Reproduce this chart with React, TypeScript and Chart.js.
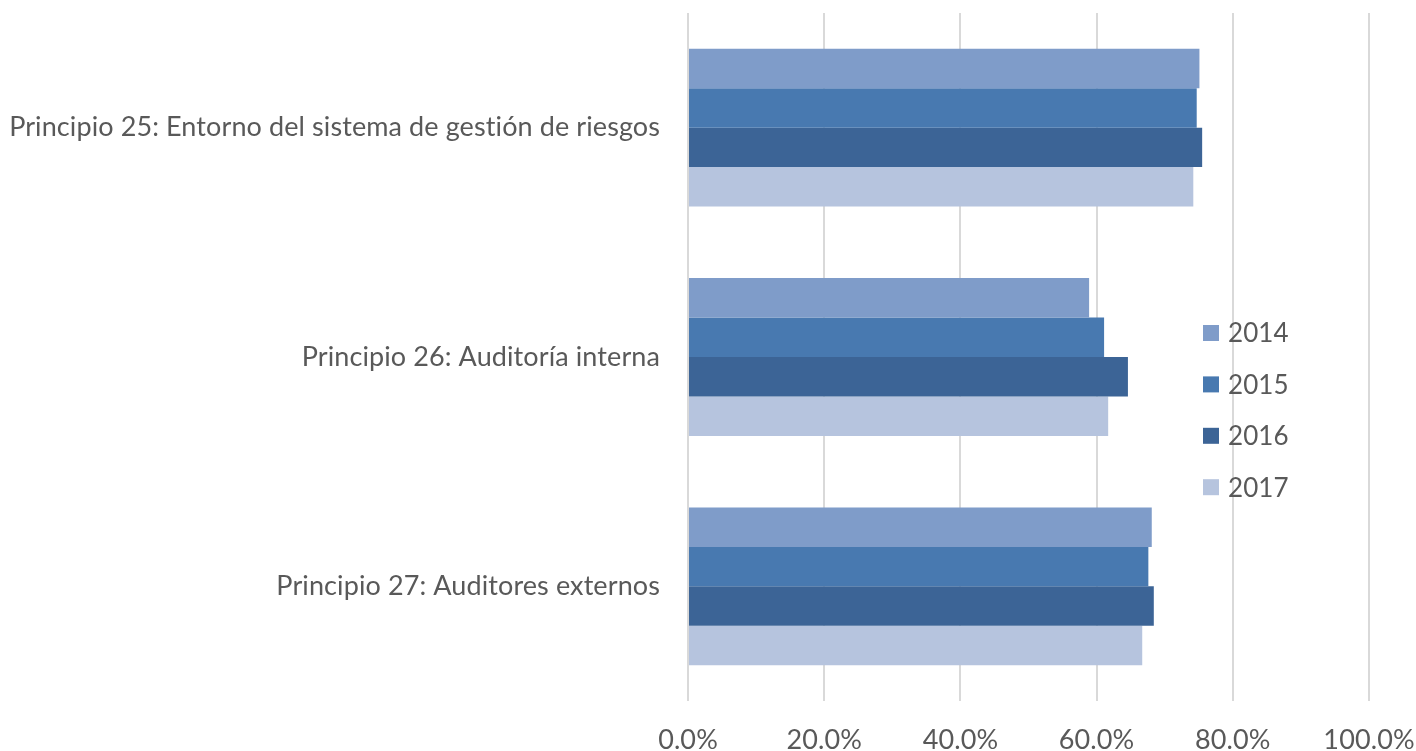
import React, { useEffect, useRef } from "react";
import { Chart, registerables } from "chart.js";

Chart.register(...registerables);

const categories = [
  "Principio 25: Entorno del sistema de gestión de riesgos",
  "Principio 26: Auditoría interna",
  "Principio 27: Auditores externos",
];
const years = ["2014", "2015", "2016", "2017"];
const values2014 = [75.1, 58.9, 68.1];
const values2015 = [74.7, 61.1, 67.6];
const values2016 = [75.5, 64.6, 68.4];
const values2017 = [74.2, 61.7, 66.7];
const xTicks = [0, 20, 40, 60, 80, 100];
const colors = ["#7F9CC9", "#4879B0", "#3C6496", "#B6C4DE"];

const FONT = "Lato, 'Noto Sans', sans-serif";
const SIZE = 27;
const TEXT = "#595959";

const spacingPlugin = {
  id: "spacing",
  beforeDraw(chart: any) {
    chart.ctx.letterSpacing = "0.1px";
  },
};

const legendPlugin = {
  id: "insideLegend",
  afterDraw(chart: any) {
    const ctx = chart.ctx;
    const x0 = 1203;
    const y0 = 333;
    const step = 51.4;
    ctx.save();
    ctx.font = `26px ${FONT}`;
    ctx.textBaseline = "middle";
    chart.data.datasets.forEach((ds: any, i: number) => {
      const cy = y0 + i * step;
      ctx.fillStyle = ds.backgroundColor;
      ctx.fillRect(x0, cy - 8, 16, 16);
      ctx.fillStyle = TEXT;
      ctx.fillText(ds.label, x0 + 25, cy + 1);
    });
    ctx.restore();
  },
};

const zeroPad = (scale: any) => {
  scale.paddingTop = 0;
  scale.paddingBottom = 0;
  scale.paddingLeft = 0;
  scale.paddingRight = 0;
};

export default function App() {
  const ref = useRef<HTMLCanvasElement>(null);
  useEffect(() => {
    const series = [values2014, values2015, values2016, values2017];
    const chart = new Chart(ref.current!, {
      type: "bar",
      data: {
        labels: categories,
        datasets: years.map((y, i) => ({
          label: y,
          data: series[i],
          backgroundColor: colors[i],
          borderWidth: 0,
          barPercentage: 1,
          categoryPercentage: 0.688,
        })),
      },
      options: {
        indexAxis: "y",
        animation: false,
        responsive: true,
        maintainAspectRatio: false,
        layout: { padding: { top: 13, right: 47, left: 0, bottom: 0 } },
        plugins: { legend: { display: false }, tooltip: { enabled: false } },
        scales: {
          x: {
            min: 0,
            max: 100,
            afterBuildTicks: (scale: any) => {
              scale.ticks = xTicks.map((v) => ({ value: v }));
            },
            afterFit: (scale: any) => {
              scale.height = 50;
              zeroPad(scale);
            },
            ticks: {
              callback: (v: any) => Number(v).toFixed(1) + "%",
              color: TEXT,
              font: { family: FONT, size: SIZE },
              padding: 23,
              maxRotation: 0,
            },
            grid: { color: "#D9D9D9", lineWidth: 2, drawTicks: false },
            border: { display: false },
          },
          y: {
            afterFit: (scale: any) => {
              scale.width = 688;
              zeroPad(scale);
            },
            ticks: {
              color: TEXT,
              font: { family: FONT, size: SIZE },
              padding: 20,
            },
            grid: { display: false },
            border: { display: false },
          },
        },
      },
      plugins: [spacingPlugin, legendPlugin],
    });
    return () => chart.destroy();
  }, []);
  return (
    <div style={{ position: "fixed", left: 0, top: 0, width: 1416, height: 751, background: "#fff" }}>
      <canvas ref={ref} />
    </div>
  );
}
